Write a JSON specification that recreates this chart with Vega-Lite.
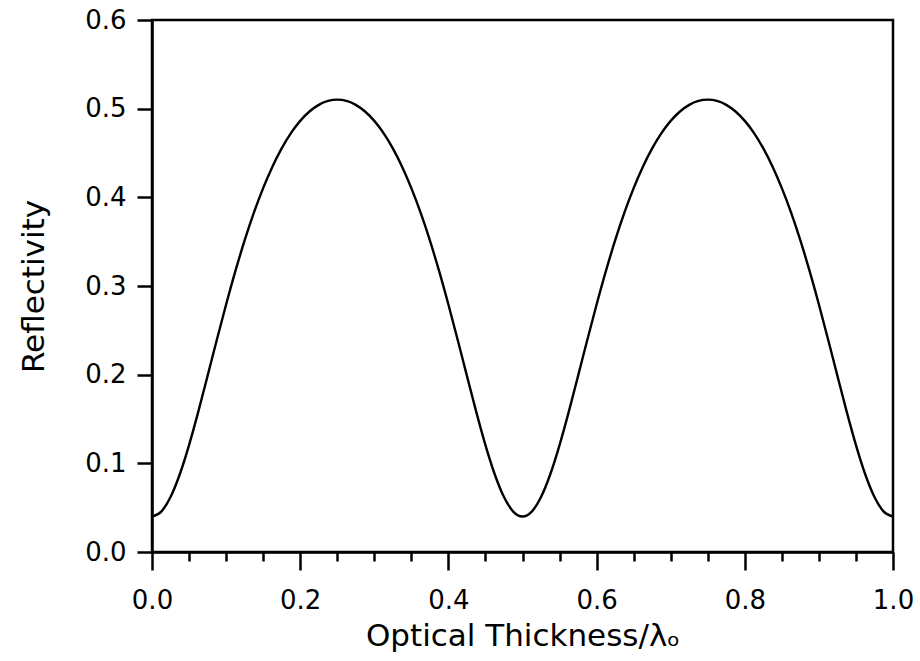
{
  "$schema": "https://vega.github.io/schema/vega-lite/v6.json",
  "autosize": "none",
  "width": 741,
  "height": 532,
  "padding": {"left": 152, "top": 20, "right": 27, "bottom": 109},
  "background": "white",
  "config": {
    "view": {"stroke": "black", "strokeWidth": 2.5},
    "axis": {
      "labelFont": "DejaVu Sans",
      "titleFont": "DejaVu Sans",
      "labelFontSize": 26,
      "titleFontSize": 31,
      "titleFontWeight": "normal",
      "labelColor": "black",
      "titleColor": "black",
      "domainColor": "black",
      "tickColor": "black",
      "domainWidth": 2.5,
      "tickWidth": 2.5,
      "grid": false
    }
  },
  "data": {
    "values": [
      {"t": 0.0, "r": 0.0400}, {"t": 0.0125, "r": 0.0456}, {"t": 0.025, "r": 0.0620}, {"t": 0.0375, "r": 0.0877},
      {"t": 0.05, "r": 0.1206}, {"t": 0.0625, "r": 0.1583}, {"t": 0.075, "r": 0.1986}, {"t": 0.0875, "r": 0.2394},
      {"t": 0.1, "r": 0.2791}, {"t": 0.1125, "r": 0.3167}, {"t": 0.125, "r": 0.3514}, {"t": 0.1375, "r": 0.3827},
      {"t": 0.15, "r": 0.4104}, {"t": 0.1625, "r": 0.4346}, {"t": 0.175, "r": 0.4552}, {"t": 0.1875, "r": 0.4724},
      {"t": 0.2, "r": 0.4862}, {"t": 0.2125, "r": 0.4968}, {"t": 0.225, "r": 0.5043}, {"t": 0.2375, "r": 0.5087},
      {"t": 0.25, "r": 0.5102}, {"t": 0.2625, "r": 0.5087}, {"t": 0.275, "r": 0.5043}, {"t": 0.2875, "r": 0.4968},
      {"t": 0.3, "r": 0.4862}, {"t": 0.3125, "r": 0.4724}, {"t": 0.325, "r": 0.4552}, {"t": 0.3375, "r": 0.4346},
      {"t": 0.35, "r": 0.4104}, {"t": 0.3625, "r": 0.3827}, {"t": 0.375, "r": 0.3514}, {"t": 0.3875, "r": 0.3167},
      {"t": 0.4, "r": 0.2791}, {"t": 0.4125, "r": 0.2394}, {"t": 0.425, "r": 0.1986}, {"t": 0.4375, "r": 0.1583},
      {"t": 0.45, "r": 0.1206}, {"t": 0.4625, "r": 0.0877}, {"t": 0.475, "r": 0.0620}, {"t": 0.4875, "r": 0.0456},
      {"t": 0.5, "r": 0.0400}, {"t": 0.5125, "r": 0.0456}, {"t": 0.525, "r": 0.0620}, {"t": 0.5375, "r": 0.0877},
      {"t": 0.55, "r": 0.1206}, {"t": 0.5625, "r": 0.1583}, {"t": 0.575, "r": 0.1986}, {"t": 0.5875, "r": 0.2394},
      {"t": 0.6, "r": 0.2791}, {"t": 0.6125, "r": 0.3167}, {"t": 0.625, "r": 0.3514}, {"t": 0.6375, "r": 0.3827},
      {"t": 0.65, "r": 0.4104}, {"t": 0.6625, "r": 0.4346}, {"t": 0.675, "r": 0.4552}, {"t": 0.6875, "r": 0.4724},
      {"t": 0.7, "r": 0.4862}, {"t": 0.7125, "r": 0.4968}, {"t": 0.725, "r": 0.5043}, {"t": 0.7375, "r": 0.5087},
      {"t": 0.75, "r": 0.5102}, {"t": 0.7625, "r": 0.5087}, {"t": 0.775, "r": 0.5043}, {"t": 0.7875, "r": 0.4968},
      {"t": 0.8, "r": 0.4862}, {"t": 0.8125, "r": 0.4724}, {"t": 0.825, "r": 0.4552}, {"t": 0.8375, "r": 0.4346},
      {"t": 0.85, "r": 0.4104}, {"t": 0.8625, "r": 0.3827}, {"t": 0.875, "r": 0.3514}, {"t": 0.8875, "r": 0.3167},
      {"t": 0.9, "r": 0.2791}, {"t": 0.9125, "r": 0.2394}, {"t": 0.925, "r": 0.1986}, {"t": 0.9375, "r": 0.1583},
      {"t": 0.95, "r": 0.1206}, {"t": 0.9625, "r": 0.0877}, {"t": 0.975, "r": 0.0620}, {"t": 0.9875, "r": 0.0456},
      {"t": 1.0, "r": 0.0400}
    ]
  },
  "resolve": {"axis": {"x": "independent", "y": "independent"}},
  "layer": [
    {
      "mark": {"type": "line", "strokeOpacity": 0},
      "encoding": {
        "x": {
          "field": "t", "type": "quantitative",
          "scale": {"domain": [0, 1], "nice": false, "zero": false},
          "axis": {
            "orient": "bottom",
            "values": [0.05, 0.1, 0.15, 0.25, 0.3, 0.35, 0.45, 0.5, 0.55, 0.65, 0.7, 0.75, 0.85, 0.9, 0.95],
            "tickSize": 9, "labels": false, "domain": false, "title": null
          }
        },
        "y": {
          "field": "r", "type": "quantitative",
          "scale": {"domain": [0, 0.6], "nice": false, "zero": false},
          "axis": null
        }
      }
    },
    {
      "mark": {"type": "line", "color": "black", "strokeWidth": 2.4, "interpolate": "monotone"},
      "encoding": {
        "x": {
          "field": "t", "type": "quantitative",
          "scale": {"domain": [0, 1], "nice": false, "zero": false},
          "axis": {
            "orient": "bottom",
            "values": [0, 0.2, 0.4, 0.6, 0.8, 1.0],
            "format": ".1f",
            "tickSize": 18,
            "labelPadding": 17,
            "labelFlush": false,
            "title": "Optical Thickness/λₒ",
            "titlePadding": 8
          }
        },
        "y": {
          "field": "r", "type": "quantitative",
          "scale": {"domain": [0, 0.6], "nice": false, "zero": false},
          "axis": {
            "orient": "left",
            "values": [0, 0.1, 0.2, 0.3, 0.4, 0.5, 0.6],
            "format": ".1f",
            "tickSize": 15,
            "labelPadding": 11,
            "labelFlush": false,
            "title": "Reflectivity",
            "titlePadding": 34
          }
        }
      }
    }
  ]
}
